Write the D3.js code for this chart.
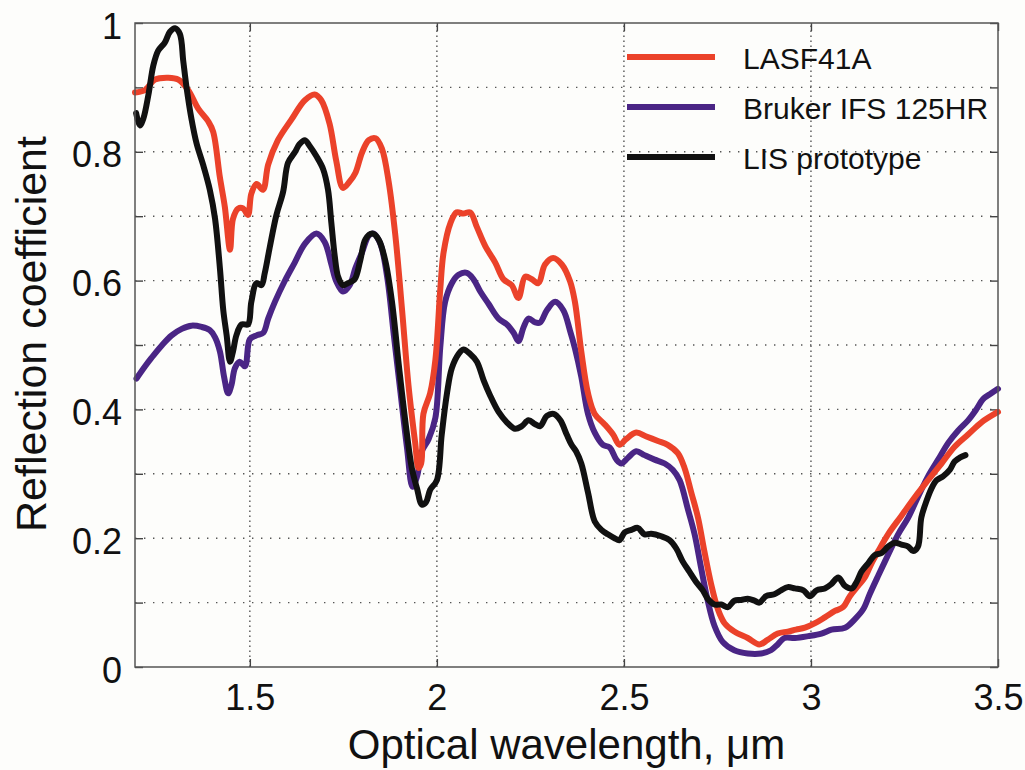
<!DOCTYPE html>
<html>
<head>
<meta charset="utf-8">
<script src="https://cdn.jsdelivr.net/npm/d3@7"></script>
<style>
  body { margin: 0; background: #fdfdfb; }
  svg { display: block; }
  text { font-family: "Liberation Sans", Arial, sans-serif; fill: #111; }
</style>
</head>
<body>
<svg id="drawing_region"></svg>
<script>
// series: LASF41A (red)
const lasfWave = [1.193,1.22,1.246,1.282,1.309,1.335,1.362,1.389,1.402,1.42,1.433,1.447,1.455,1.469,1.482,1.495,1.504,1.518,1.535,1.549,1.575,1.611,1.647,1.673,1.691,1.713,1.731,1.749,1.767,1.782,1.8,1.818,1.836,1.853,1.871,1.889,1.907,1.924,1.942,1.951,1.958,1.964,1.982,1.996,2.009,2.018,2.036,2.053,2.071,2.089,2.107,2.129,2.156,2.178,2.2,2.218,2.236,2.254,2.271,2.289,2.311,2.334,2.356,2.369,2.386,2.404,2.422,2.448,2.471,2.488,2.506,2.533,2.56,2.591,2.617,2.644,2.662,2.68,2.698,2.715,2.733,2.751,2.769,2.795,2.831,2.862,2.884,2.911,2.938,2.96,2.984,3.011,3.037,3.064,3.086,3.104,3.126,3.144,3.162,3.18,3.206,3.242,3.278,3.313,3.349,3.384,3.42,3.456,3.5];
const lasfRefl = [0.892,0.896,0.912,0.915,0.912,0.896,0.867,0.847,0.831,0.76,0.715,0.648,0.696,0.712,0.712,0.702,0.735,0.75,0.741,0.78,0.818,0.85,0.88,0.889,0.88,0.844,0.786,0.744,0.754,0.767,0.799,0.818,0.821,0.805,0.754,0.67,0.554,0.438,0.348,0.309,0.316,0.393,0.425,0.477,0.586,0.644,0.689,0.706,0.704,0.706,0.683,0.654,0.628,0.602,0.593,0.573,0.606,0.602,0.596,0.625,0.635,0.625,0.599,0.567,0.49,0.425,0.393,0.377,0.361,0.345,0.354,0.364,0.358,0.351,0.345,0.332,0.309,0.271,0.232,0.18,0.129,0.09,0.068,0.055,0.045,0.035,0.042,0.052,0.055,0.058,0.061,0.068,0.077,0.087,0.093,0.11,0.126,0.139,0.161,0.18,0.206,0.235,0.264,0.29,0.316,0.342,0.361,0.38,0.396];

// series: Bruker IFS 125HR (purple)
const brukerWave = [1.197,1.22,1.237,1.264,1.291,1.318,1.344,1.371,1.393,1.407,1.42,1.431,1.442,1.451,1.46,1.473,1.487,1.5,1.518,1.536,1.549,1.567,1.593,1.62,1.647,1.678,1.7,1.718,1.731,1.749,1.767,1.782,1.8,1.818,1.831,1.849,1.867,1.885,1.903,1.92,1.935,1.947,1.96,1.978,1.996,2.009,2.022,2.04,2.058,2.08,2.098,2.116,2.138,2.165,2.187,2.205,2.218,2.232,2.245,2.263,2.276,2.294,2.316,2.338,2.356,2.369,2.386,2.404,2.422,2.444,2.462,2.48,2.493,2.511,2.533,2.555,2.582,2.609,2.631,2.649,2.671,2.689,2.706,2.724,2.742,2.764,2.795,2.831,2.867,2.893,2.911,2.929,2.957,2.993,3.028,3.055,3.091,3.117,3.14,3.157,3.18,3.206,3.233,3.26,3.286,3.313,3.34,3.367,3.393,3.42,3.442,3.46,3.482,3.5];
const brukerRefl = [0.448,0.467,0.48,0.499,0.515,0.525,0.53,0.528,0.523,0.512,0.49,0.451,0.425,0.438,0.464,0.474,0.467,0.509,0.515,0.519,0.541,0.567,0.599,0.628,0.657,0.673,0.66,0.625,0.599,0.583,0.593,0.619,0.644,0.67,0.673,0.657,0.606,0.515,0.425,0.341,0.28,0.296,0.335,0.354,0.387,0.496,0.567,0.596,0.609,0.612,0.602,0.583,0.564,0.541,0.532,0.519,0.506,0.528,0.541,0.535,0.535,0.554,0.567,0.554,0.522,0.495,0.451,0.393,0.364,0.345,0.341,0.322,0.316,0.325,0.335,0.329,0.322,0.316,0.306,0.29,0.245,0.206,0.155,0.103,0.064,0.039,0.026,0.021,0.021,0.026,0.035,0.045,0.045,0.048,0.052,0.058,0.061,0.074,0.09,0.113,0.142,0.174,0.206,0.232,0.264,0.296,0.322,0.348,0.367,0.383,0.4,0.416,0.425,0.432];

// series: LIS prototype (black)
const lisWave = [1.196,1.206,1.215,1.229,1.242,1.255,1.273,1.286,1.3,1.313,1.322,1.331,1.344,1.358,1.375,1.393,1.407,1.42,1.429,1.438,1.447,1.455,1.464,1.478,1.495,1.504,1.518,1.531,1.54,1.553,1.571,1.589,1.602,1.62,1.633,1.647,1.66,1.678,1.696,1.709,1.718,1.727,1.736,1.749,1.762,1.78,1.795,1.809,1.827,1.844,1.862,1.88,1.898,1.916,1.933,1.947,1.96,1.971,1.982,2.0,2.013,2.027,2.04,2.058,2.071,2.089,2.107,2.125,2.142,2.165,2.187,2.209,2.227,2.245,2.263,2.276,2.294,2.312,2.33,2.347,2.36,2.372,2.386,2.404,2.422,2.44,2.457,2.475,2.488,2.502,2.52,2.537,2.555,2.573,2.6,2.622,2.64,2.657,2.675,2.693,2.711,2.724,2.742,2.76,2.778,2.795,2.813,2.831,2.849,2.862,2.88,2.902,2.92,2.938,2.957,2.98,2.997,3.015,3.037,3.055,3.073,3.091,3.109,3.122,3.135,3.153,3.171,3.189,3.206,3.224,3.242,3.26,3.273,3.286,3.295,3.309,3.322,3.336,3.353,3.371,3.384,3.398,3.413];
const lisRefl = [0.86,0.841,0.851,0.889,0.934,0.957,0.97,0.986,0.992,0.983,0.941,0.899,0.851,0.812,0.78,0.741,0.696,0.619,0.554,0.515,0.474,0.49,0.515,0.532,0.532,0.567,0.596,0.593,0.612,0.651,0.702,0.738,0.783,0.799,0.812,0.818,0.809,0.793,0.773,0.741,0.689,0.638,0.606,0.593,0.596,0.602,0.631,0.664,0.673,0.664,0.631,0.567,0.47,0.38,0.309,0.277,0.252,0.256,0.275,0.29,0.361,0.425,0.464,0.486,0.493,0.486,0.474,0.445,0.422,0.396,0.38,0.37,0.374,0.383,0.377,0.374,0.39,0.393,0.383,0.361,0.345,0.335,0.316,0.271,0.226,0.213,0.206,0.2,0.197,0.209,0.213,0.216,0.206,0.207,0.203,0.197,0.184,0.164,0.148,0.132,0.119,0.106,0.097,0.097,0.093,0.103,0.104,0.106,0.103,0.1,0.11,0.113,0.119,0.124,0.122,0.119,0.11,0.119,0.122,0.129,0.139,0.126,0.122,0.132,0.148,0.161,0.174,0.177,0.187,0.193,0.19,0.187,0.18,0.187,0.232,0.258,0.277,0.29,0.296,0.306,0.319,0.325,0.329];

const seriesNames = ["LASF41A", "Bruker IFS 125HR", "LIS prototype"];
const seriesColors = ["#eb422a", "#4a2585", "#111111"];

const xTicks = [1.5, 2, 2.5, 3, 3.5];
const yTicks = [0, 0.1, 0.2, 0.3, 0.4, 0.5, 0.6, 0.7, 0.8, 0.9, 1];

const width = 1025, height = 770;
const margin = { top: 23, right: 27, bottom: 103, left: 135 };

const svg = d3.select("#drawing_region")
  .attr("width", width)
  .attr("height", height);

const x = d3.scaleLinear().domain([1.193, 3.5]).range([margin.left, width - margin.right]);
const y = d3.scaleLinear().domain([0, 1]).range([height - margin.bottom, margin.top]);

// dotted grid
svg.append("g")
  .selectAll("line")
  .data(yTicks.filter(d => d > 0 && d < 1))
  .join("line")
  .attr("x1", x.range()[0]).attr("x2", x.range()[1])
  .attr("y1", d => y(d)).attr("y2", d => y(d))
  .attr("stroke", "#555").attr("stroke-width", 1.4)
  .attr("stroke-dasharray", "1.4,7.6");

svg.append("g")
  .selectAll("line")
  .data(xTicks.filter(d => d < 3.5))
  .join("line")
  .attr("x1", d => x(d)).attr("x2", d => x(d))
  .attr("y1", y.range()[0]).attr("y2", y.range()[1])
  .attr("stroke", "#555").attr("stroke-width", 1.4)
  .attr("stroke-dasharray", "1.4,3.6");

// axes (ticks pointing inward, like matlab)
const fmtY = d => (Math.round(d * 10) % 2 === 0 ? (d === 0 || d === 1 ? d3.format("d")(d) : d3.format(".1f")(d)) : "");

svg.append("g")
  .attr("transform", `translate(${margin.left},0)`)
  .call(d3.axisLeft(y).tickValues(yTicks).tickSize(-8).tickPadding(13).tickFormat(fmtY))
  .call(g => g.select(".domain").remove())
  .call(g => g.selectAll("line").attr("stroke", "#444").attr("stroke-width", 1.4))
  .call(g => g.selectAll("text").attr("font-size", 36).attr("dy", "0.42em")
    .attr("font-family", "'Liberation Sans', Arial, sans-serif").attr("fill", "#111"));

svg.append("g")
  .attr("transform", `translate(${width - margin.right},0)`)
  .call(d3.axisRight(y).tickValues(yTicks).tickSize(-8).tickFormat(""))
  .call(g => g.select(".domain").remove())
  .call(g => g.selectAll("line").attr("stroke", "#444").attr("stroke-width", 1.4));

svg.append("g")
  .attr("transform", `translate(0,${height - margin.bottom})`)
  .call(d3.axisBottom(x).tickValues(xTicks).tickSize(-8).tickPadding(17).tickFormat(d3.format("")))
  .call(g => g.select(".domain").remove())
  .call(g => g.selectAll("line").attr("stroke", "#444").attr("stroke-width", 1.4))
  .call(g => g.selectAll("text").attr("font-size", 36)
    .attr("font-family", "'Liberation Sans', Arial, sans-serif").attr("fill", "#111"));

svg.append("g")
  .attr("transform", `translate(0,${margin.top})`)
  .call(d3.axisTop(x).tickValues(xTicks).tickSize(-8).tickFormat(""))
  .call(g => g.select(".domain").remove())
  .call(g => g.selectAll("line").attr("stroke", "#444").attr("stroke-width", 1.4));

// curves
const series = [
  { wave: brukerWave, refl: brukerRefl, color: seriesColors[1] },
  { wave: lasfWave, refl: lasfRefl, color: seriesColors[0] },
  { wave: lisWave, refl: lisRefl, color: seriesColors[2] },
];

const line = d3.line()
  .x(d => x(d[0]))
  .y(d => y(d[1]))
  .curve(d3.curveCatmullRom.alpha(0.5));

series.forEach(s => {
  svg.append("path")
    .datum(s.wave.map((w, i) => [w, s.refl[i]]))
    .attr("d", line)
    .attr("fill", "none")
    .attr("stroke", s.color)
    .attr("stroke-width", 6)
    .attr("stroke-linejoin", "round")
    .attr("stroke-linecap", "round");
});

// frame
svg.append("rect")
  .attr("x", margin.left).attr("y", margin.top)
  .attr("width", width - margin.left - margin.right)
  .attr("height", height - margin.top - margin.bottom)
  .attr("fill", "none").attr("stroke", "#555").attr("stroke-width", 1.5);

// legend
const legend = svg.append("g");
seriesNames.forEach((name, i) => {
  const ly = 57 + i * 50;
  legend.append("line")
    .attr("x1", 627).attr("x2", 715)
    .attr("y1", ly).attr("y2", ly)
    .attr("stroke", seriesColors[i]).attr("stroke-width", 6);
  legend.append("text")
    .attr("x", 743).attr("y", ly + 12)
    .attr("font-size", 30)
    .text(name);
});

// axis titles
svg.append("text")
  .attr("x", (x.range()[0] + x.range()[1]) / 2)
  .attr("y", 759)
  .attr("text-anchor", "middle")
  .attr("font-size", 42)
  .text("Optical wavelength, \u03bcm");

svg.append("text")
  .attr("transform", "translate(46,334) rotate(-90)")
  .attr("text-anchor", "middle")
  .attr("font-size", 43)
  .text("Reflection coefficient");
</script>
</body>
</html>
